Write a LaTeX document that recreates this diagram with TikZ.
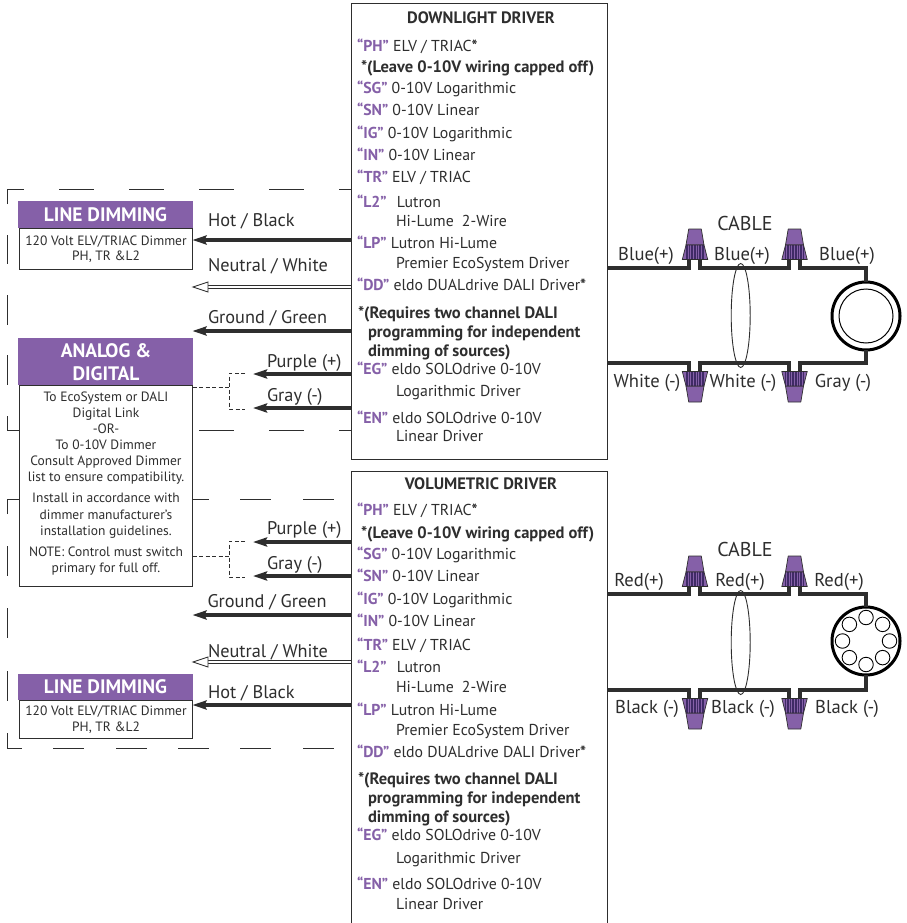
\documentclass[tikz,border=0pt]{standalone}
\usepackage{fontspec}
\setmainfont{PT Sans}
\usetikzlibrary{arrows.meta,shapes.geometric,calc}
\definecolor{pur}{HTML}{8560A8}
\definecolor{purd}{HTML}{3F2A66}
\definecolor{ink}{HTML}{2E2E2E}
\newcommand{\pc}[1]{\textcolor{pur}{\textbf{#1}}}
\tikzset{
  every node/.style={inner sep=0pt,outer sep=0pt,text=ink},
  drv/.style={draw=ink,line width=1pt,fill=white},
  row/.style={anchor=west,text height=11pt,text depth=0pt,font=\fontsize{15.8}{16}\selectfont},
  bold row/.style={anchor=west,text height=11.5pt,text depth=0pt,font=\fontsize{16.5}{16}\selectfont\bfseries},
  drvtitle/.style={text height=11.5pt,text depth=0pt,font=\fontsize{16.5}{16}\selectfont\bfseries},
  lab/.style={anchor=west,text height=12.8pt,text depth=0pt,font=\fontsize{18.3}{20}\selectfont},
  wlab/.style={text height=13pt,text depth=0pt,font=\fontsize{18.6}{20}\selectfont},
  cabletitle/.style={text height=14pt,text depth=0pt,font=\fontsize{20}{20}\selectfont},
  small/.style={text height=9.5pt,text depth=0pt,font=\fontsize{13.5}{14}\selectfont},
  head/.style={fill=pur,text=white,font=\fontsize{19.5}{22}\selectfont\bfseries,align=center},
  body/.style={draw=ink,line width=1pt,fill=white},
  bound/.style={draw=ink,line width=1pt},
  feed/.style={draw=ink,line width=1pt,dash pattern=on 4pt off 2.5pt},
  hotw/.style={draw=ink,line width=3.2pt,-{Stealth[length=14pt,width=9pt,inset=2pt]}},
  neut/.style={draw=ink,line width=.9pt,double=white,double distance=1.6pt},
  tipw/.style={draw=ink,fill=white,line width=.9pt},
  wire/.style={draw=ink,line width=3.2pt},
  cablering/.style={draw=ink,line width=.9pt},
  lampo/.style={draw=black,line width=3pt,fill=white},
  lampi/.style={draw=black,line width=1pt,fill=white},
}
\newcommand{\nut}[3]{%
  \begin{scope}[shift={(#1,#2)},yscale=#3]
    \fill[pur] (-6.3,-31) -- (6.3,-31) -- (9,-15) -- (-9,-15) -- cycle;
    \draw[ink,line width=.7pt,line join=round] (-6.3,-31) -- (6.3,-31) -- (9,-15) -- (-9,-15) -- cycle;
    \begin{scope}
      \clip (-9,-15) -- (9,-15) -- (12.7,-.5) -- (-12.7,-.5) -- cycle;
      \fill[pur] (-13,-16) rectangle (13,0);
      \foreach \k in {-8.8,-7.2,...,9} \draw[purd,line width=.9pt] (\k,-16) -- (\k,0);
    \end{scope}
    \draw[ink,line width=.7pt] (-9,-15) -- (9,-15) -- (12.7,-.5) -- (-12.7,-.5) -- cycle;
  \end{scope}}
\begin{document}
\begin{tikzpicture}[x=1pt,y=-1pt]
\useasboundingbox (0,0) rectangle (906,923);
\fill[white] (0,0) rectangle (906,923);

% dashed boundaries
\foreach \a/\b in {59/94,129/164,199/234,269/304,339/351} \draw[bound] (\a,189) -- (\b,189);
\draw[bound] (7,204) -- (7,189) -- (24,189);
\foreach \a/\b in {235/264,295/325,355/385} \draw[bound] (7,\a) -- (7,\b);
\draw[bound] (7,416) -- (7,430) -- (19,430);
\foreach \a/\b in {199/234,269/304,339/351} \draw[bound] (\a,430) -- (\b,430);
\draw[bound] (7,514) -- (7,499) -- (19,499);
\foreach \a/\b in {193/209,240/271,303/334} \draw[bound] (\a,499) -- (\b,499);
\foreach \a/\b in {546/576,608/638,671/701} \draw[bound] (7,\a) -- (7,\b);
\draw[bound] (7,733) -- (7,748) -- (22,748);
\foreach \a/\b in {53/84,116/147,178/209,240/271,303/334} \draw[bound] (\a,748) -- (\b,748);

% driver boxes
\node[drv,minimum width=256pt,minimum height=455pt,anchor=north west] (dl) at (351,4) {};
\node[drv,minimum width=256pt,minimum height=470pt,anchor=north west] (vol) at (351,471) {};

% downlight driver text
\node[drvtitle] (t1) at (481,18) {DOWNLIGHT DRIVER};
\node[row] (a1) at (357,46) {\pc{“PH”} ELV / TRIAC\textbf{*}};
\node[bold row] (a2) at (361,67) {*(Leave 0-10V wiring capped off)};
\node[row] (a3) at (357,88) {\pc{“SG”} 0-10V Logarithmic};
\node[row] (a4) at (357,110) {\pc{“SN”} 0-10V Linear};
\node[row] (a5) at (357,133) {\pc{“IG”} 0-10V Logarithmic};
\node[row] (a6) at (357,155) {\pc{“IN”} 0-10V Linear};
\node[row] (a7) at (357,177) {\pc{“TR”} ELV / TRIAC};
\node[row] (a8) at (357,202) {\pc{“L2”}\hspace{6pt} Lutron};
\node[row] (a9) at (396,221) {Hi-Lume\hspace{4pt} 2-Wire};
\node[row] (a10) at (357,243) {\pc{“LP”} Lutron Hi-Lume};
\node[row] (a11) at (396,263) {Premier EcoSystem Driver};
\node[row] (a12) at (357,285) {\pc{“DD”} eldo DUALdrive DALI Driver\textbf{*}};
\node[bold row] (a13) at (358,313) {*(Requires two channel DALI};
\node[bold row] (a14) at (368,332) {programming for independent};
\node[bold row] (a15) at (368,351) {dimming of sources)};
\node[row] (a16) at (357,369) {\pc{“EG”} eldo SOLOdrive 0-10V};
\node[row] (a17) at (396,391) {Logarithmic Driver};
\node[row] (a18) at (357,418) {\pc{“EN”} eldo SOLOdrive 0-10V};
\node[row] (a19) at (396,436) {Linear Driver};

% volumetric driver text
\node[drvtitle] (t2) at (481,484) {VOLUMETRIC DRIVER};
\node[row] (b1) at (357,510) {\pc{“PH”} ELV / TRIAC\textbf{*}};
\node[bold row] (b2) at (361,533) {*(Leave 0-10V wiring capped off)};
\node[row] (b3) at (357,554) {\pc{“SG”} 0-10V Logarithmic};
\node[row] (b4) at (357,576) {\pc{“SN”} 0-10V Linear};
\node[row] (b5) at (357,599) {\pc{“IG”} 0-10V Logarithmic};
\node[row] (b6) at (357,621) {\pc{“IN”} 0-10V Linear};
\node[row] (b7) at (357,645) {\pc{“TR”} ELV / TRIAC};
\node[row] (b8) at (357,667) {\pc{“L2”}\hspace{6pt} Lutron};
\node[row] (b9) at (396,687) {Hi-Lume\hspace{4pt} 2-Wire};
\node[row] (b10) at (357,710) {\pc{“LP”} Lutron Hi-Lume};
\node[row] (b11) at (396,730) {Premier EcoSystem Driver};
\node[row] (b12) at (357,752) {\pc{“DD”} eldo DUALdrive DALI Driver\textbf{*}};
\node[bold row] (b13) at (358,779) {*(Requires two channel DALI};
\node[bold row] (b14) at (368,798) {programming for independent};
\node[bold row] (b15) at (368,817) {dimming of sources)};
\node[row] (b16) at (357,835) {\pc{“EG”} eldo SOLOdrive 0-10V};
\node[row] (b17) at (396,858) {Logarithmic Driver};
\node[row] (b18) at (357,884) {\pc{“EN”} eldo SOLOdrive 0-10V};
\node[row] (b19) at (396,904) {Linear Driver};

% left boxes
\node[body,minimum width=173.5pt,minimum height=41pt,anchor=north west] (ld1) at (19,228) {};
\node[head,minimum width=175pt,minimum height=27pt,anchor=north west] (ld1h) at (18,201) {LINE DIMMING};
\node[small] (ld1a) at (106,240.5) {120 Volt ELV/TRIAC Dimmer};
\node[small] (ld1b) at (106,256) {PH, TR \&L2};

\node[body,minimum width=173.5pt,minimum height=201.5pt,anchor=north west] (ad) at (19,385) {};
\node[fill=pur,minimum width=175pt,minimum height=47pt,anchor=north west] (adh) at (18,338) {};
\node[head,fill=none] (adh1) at (106,351) {ANALOG \&};
\node[head,fill=none] (adh2) at (106,373.5) {DIGITAL};
\node[small] (c1) at (106,397) {To EcoSystem or DALI};
\node[small] (c2) at (106,412.6) {Digital Link};
\node[small] (c3) at (106,428.6) {-OR-};
\node[small] (c4) at (106,444.6) {To 0-10V Dimmer};
\node[small] (c5) at (106,460.6) {Consult Approved Dimmer};
\node[small] (c6) at (106,477) {list to ensure compatibility.};
\node[small] (c7) at (106,498) {Install in accordance with};
\node[small] (c8) at (106,515) {dimmer manufacturer's};
\node[small] (c9) at (106,531) {installation guidelines.};
\node[small] (c10) at (106,552) {NOTE: Control must switch};
\node[small] (c11) at (106,568) {primary for full off.};

\node[body,minimum width=173.5pt,minimum height=38pt,anchor=north west] (ld2) at (19,700) {};
\node[head,minimum width=175pt,minimum height=26pt,anchor=north west] (ld2h) at (18,674) {LINE DIMMING};
\node[small] (ld2a) at (106,711) {120 Volt ELV/TRIAC Dimmer};
\node[small] (ld2b) at (106,727) {PH, TR \&L2};

% left wires, upper
\draw[hotw] (dl.west |- 0,240) -- (ld1.east |- 0,240);
\draw[neut] (dl.west |- 0,287) -- (207,287);
\coordinate (n1) at (193,287);
\draw[tipw] (n1) -- (208,282) -- (208,292) -- cycle;
\draw[hotw] (dl.west |- 0,331) -- (ad.east |- 0,331);
\coordinate (p1) at (253,374);
\coordinate (g1) at (253,408);
\draw[hotw] (dl.west |- p1) -- (p1);
\draw[hotw] (dl.west |- g1) -- (g1);
\draw[feed] (ad.east |- 0,387.5) -- (229,387.5) (245,373) -- (229,373) -- (229,409) -- (245,409);

% left wires, lower
\coordinate (p2) at (253,542);
\coordinate (g2) at (253,576);
\draw[hotw] (vol.west |- p2) -- (p2);
\draw[hotw] (vol.west |- g2) -- (g2);
\draw[feed] (ad.east |- 0,556) -- (229,556) (245,541) -- (229,541) -- (229,577) -- (245,577);
\draw[hotw] (vol.west |- 0,615) -- (ad.east |- 0,615);
\draw[neut] (vol.west |- 0,662) -- (207,662);
\coordinate (n2) at (193,662);
\draw[tipw] (n2) -- (208,657) -- (208,667) -- cycle;
\draw[hotw] (vol.west |- 0,705) -- (ld2.east |- 0,705);

% left labels
\node[lab] (l1) at (208,220) {Hot / Black};
\node[lab] (l2) at (208,265) {Neutral / White};
\node[lab] (l3) at (208,317) {Ground / Green};
\node[lab] (l4) at (267,361) {Purple (+)};
\node[lab] (l5) at (267,395) {Gray (-)};
\node[lab] (l6) at (267,528) {Purple (+)};
\node[lab] (l7) at (267,563) {Gray (-)};
\node[lab] (l8) at (207.5,601) {Ground / Green};
\node[lab] (l9) at (208,651) {Neutral / White};
\node[lab] (l10) at (208,692) {Hot / Black};

% right side, downlight
\node[circle,lampo,minimum size=68pt] (lamp1) at (866,316) {};
\node[circle,lampi,minimum size=54pt] (lamp1i) at (866,316) {};
\draw[wire] (dl.east |- 0,268) -- (689,268) -- (689,258) (700,258) -- (700,268) -- (789,268) -- (789,258) (800,258) -- (800,268) -- (866,268) -- (lamp1.north);
\draw[wire] (dl.east |- 0,363) -- (689,363) -- (689,372) (700,372) -- (700,363) -- (789,363) -- (789,372) (800,372) -- (800,363) -- (866,363) -- (lamp1.south);
\nut{695}{260}{1}
\nut{794.5}{260}{1}
\nut{695}{371}{-1}
\nut{794.5}{371}{-1}
\node[cablering,ellipse,minimum width=19pt,minimum height=104pt] (e1) at (740.7,315.5) {};
\node[cabletitle] (cab1) at (745,223) {CABLE};
\node[wlab] (r1) at (646,254) {Blue(+)};
\node[wlab] (r2) at (742,254) {Blue(+)};
\node[wlab] (r3) at (847,254) {Blue(+)};
\node[wlab] (r4) at (647,381) {White (-)};
\node[wlab] (r5) at (743,381) {White (-)};
\node[wlab] (r6) at (843,381) {Gray (-)};

% right side, volumetric
\node[circle,lampo,fill=white,minimum size=68pt] (lamp2) at (866,641) {};
\foreach \q [count=\i] in {0,45,...,315}
  \node[circle,draw=black,line width=.9pt,minimum size=14.5pt] (led\i) at ($(lamp2.center)+(\q:23.5)$) {};
\draw[wire] (vol.east |- 0,594) -- (689,594) -- (689,584) (700,584) -- (700,594) -- (789,594) -- (789,584) (800,584) -- (800,594) -- (866,594) -- (lamp2.north);
\draw[wire] (vol.east |- 0,690) -- (689,690) -- (689,699) (700,699) -- (700,690) -- (789,690) -- (789,699) (800,699) -- (800,690) -- (866,690) -- (lamp2.south);
\nut{695}{587}{1}
\nut{794.5}{587}{1}
\nut{695}{698}{-1}
\nut{794.5}{698}{-1}
\node[cablering,ellipse,minimum width=19pt,minimum height=104pt] (e2) at (740.7,642.5) {};
\node[cabletitle] (cab2) at (745,549) {CABLE};
\node[wlab] (s1) at (639,580) {Red(+)};
\node[wlab] (s2) at (740,580) {Red(+)};
\node[wlab] (s3) at (839,580) {Red(+)};
\node[wlab] (s4) at (647,707) {Black (-)};
\node[wlab] (s5) at (743,707) {Black (-)};
\node[wlab] (s6) at (847,707) {Black (-)};
\end{tikzpicture}
\end{document}
